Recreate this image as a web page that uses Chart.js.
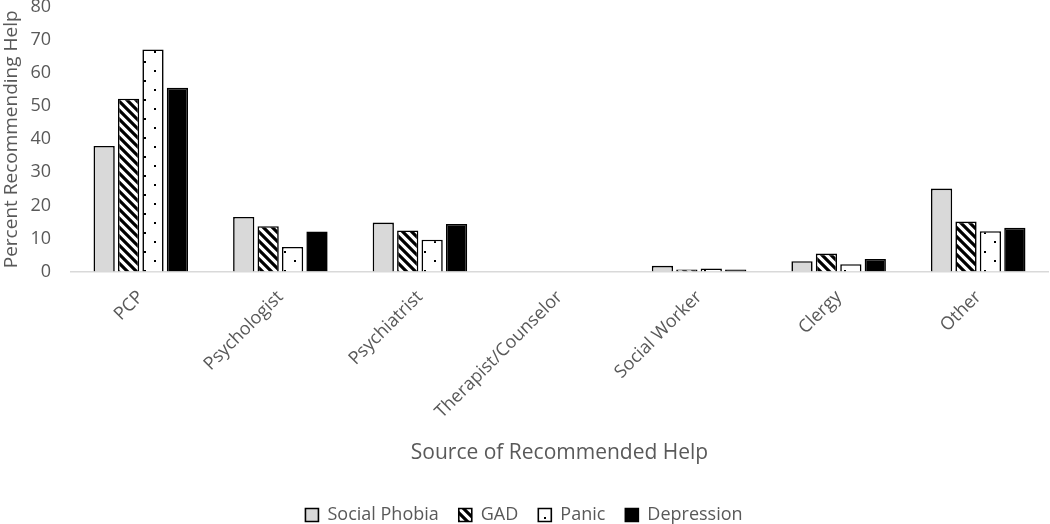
<!DOCTYPE html>
<html>
<head>
<meta charset="utf-8">
<script src="https://cdn.jsdelivr.net/npm/chart.js@4"></script>
<style>
html,body{margin:0;padding:0;background:#fff;}
#wrap{width:1050px;height:524px;position:relative;}
</style>
</head>
<body>
<div id="wrap"><canvas id="c" width="1050" height="524"></canvas></div>
<script>
const categories = ["PCP","Psychologist","Psychiatrist","Therapist/Counselor","Social Worker","Clergy","Other"];
const socialPhobia = [38.0, 16.5, 14.8, 0, 1.7, 3.1, 25.1];
const gad          = [52.3, 13.7, 12.4, 0, 0.6, 5.4, 15.1];
const panic        = [67.2, 7.4, 9.6, 0, 0.9, 2.2, 12.2];
const depression   = [55.6, 12.1, 14.4, 0, 0.6, 3.8, 13.2];
const seriesNames  = ["Social Phobia","GAD","Panic","Depression"];
const yTicks = [0,10,20,30,40,50,60,70,80];

function stripePattern(){
  const s = 9;
  const cv = document.createElement('canvas'); cv.width = s; cv.height = s;
  const g = cv.getContext('2d');
  g.fillStyle = '#fff'; g.fillRect(0,0,s,s);
  g.strokeStyle = '#000'; g.lineWidth = 3.2;
  g.beginPath();
  g.moveTo(-s, -s); g.lineTo(2*s, 2*s);
  g.moveTo(-s, 0); g.lineTo(s, 2*s);
  g.moveTo(0, -s); g.lineTo(2*s, s);
  g.stroke();
  return g.createPattern(cv, 'repeat');
}
function dotPattern(){
  const w = 20, h = 19;
  const cv = document.createElement('canvas'); cv.width = w; cv.height = h;
  const g = cv.getContext('2d');
  g.fillStyle = '#fff'; g.fillRect(0,0,w,h);
  g.fillStyle = '#000';
  g.fillRect(4,4,2,2);
  g.fillRect(14,13,2,2);
  return g.createPattern(cv, 'repeat');
}

const FONT = "'Open Sans', 'Noto Sans', sans-serif";
const TXT = '#595959';

new Chart(document.getElementById('c'), {
  type: 'bar',
  data: {
    labels: categories,
    datasets: [
      {label: seriesNames[0], data: socialPhobia, backgroundColor: '#d9d9d9', borderColor: '#000', borderWidth: 1.6},
      {label: seriesNames[1], data: gad, backgroundColor: stripePattern(), borderColor: '#000', borderWidth: 1.6},
      {label: seriesNames[2], data: panic, backgroundColor: dotPattern(), borderColor: '#000', borderWidth: 1.6},
      {label: seriesNames[3], data: depression, backgroundColor: '#000', borderColor: '#000', borderWidth: 1.6}
    ]
  },
  options: {
    responsive: false,
    animation: false,
    devicePixelRatio: 1,
    layout: {padding: {top: 7, right: 2, left: 0, bottom: -10}},
    datasets: {bar: {categoryPercentage: 0.7, barPercentage: 0.87}},
    scales: {
      x: {
        grid: {display: false, drawTicks: false},
        border: {display: true, color: '#d9d9d9', width: 1.5},
        ticks: {color: TXT, font: {family: FONT, size: 18}, minRotation: 45, maxRotation: 45, padding: 15},
        title: {display: true, text: 'Source of Recommended Help', color: TXT, font: {family: FONT, size: 21}, padding: {top: 3, bottom: 20}}
      },
      y: {
        min: 0, max: 80,
        afterBuildTicks: (ax) => { ax.ticks = yTicks.map(v => ({value: v})); },
        afterFit: (ax) => { ax.width = 71; },
        grid: {display: false, drawTicks: true, tickLength: 20},
        border: {display: false},
        ticks: {color: TXT, font: {family: FONT, size: 18, lineHeight: 0.8}, padding: 0},
        title: {display: true, text: 'Percent Recommending Help', color: TXT, font: {family: FONT, size: 19}, padding: {top: 0, bottom: 2}}
      }
    },
    plugins: {
      legend: {
        position: 'bottom',
        labels: {color: TXT, font: {family: FONT, size: 18}, boxWidth: 13, boxHeight: 13, padding: 20}
      },
      tooltip: {enabled: false}
    }
  }
});
</script>
</body>
</html>
